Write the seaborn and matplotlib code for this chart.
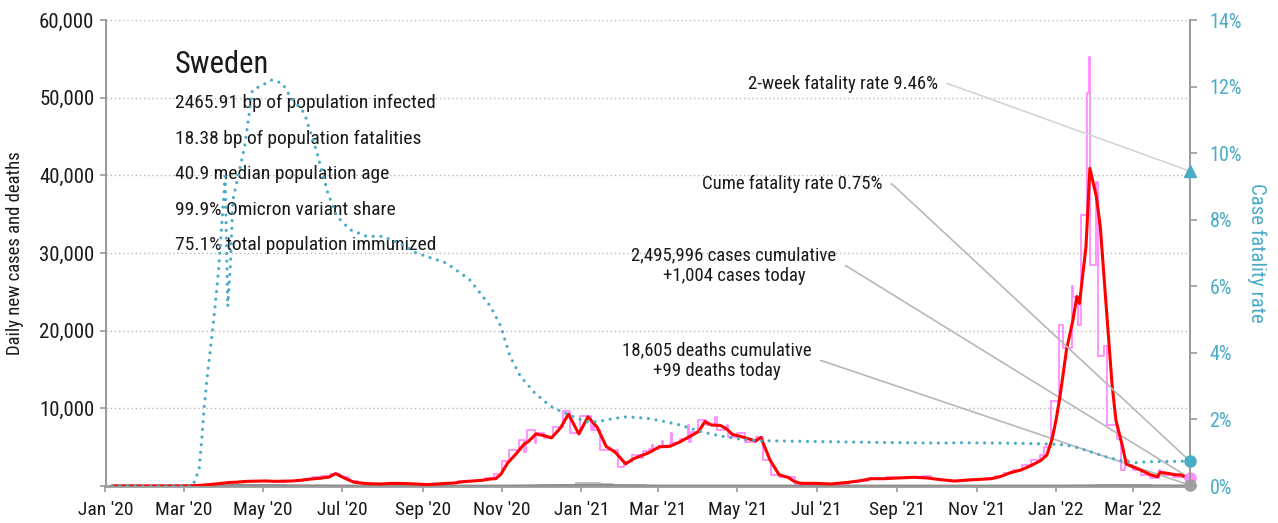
import matplotlib
matplotlib.use("Agg")
import matplotlib.pyplot as plt
import matplotlib.dates as mdates
from matplotlib import font_manager
from matplotlib.ticker import FuncFormatter, MultipleLocator
import pandas as pd
import seaborn as sns

# ---------------------------------------------------------------- data
country = "Sweden"
profile_lines = [
    "2465.91 bp of population infected",
    "18.38 bp of population fatalities",
    "40.9 median population age",
    "99.9% Omicron variant share",
    "75.1% total population immunized",
]
cum_cases = 2495996
cum_deaths = 18605
cases_today = 1004
deaths_today = 99
two_week_cfr = 9.46
last_day = "2022-04-14"

# 7-day average of new cases
avg_dates = [
    "2020-01-06", "2020-02-26", "2020-03-08", "2020-03-15", "2020-03-22", "2020-03-29",
    "2020-04-05", "2020-04-12", "2020-04-19", "2020-04-26", "2020-05-03", "2020-05-10",
    "2020-05-17", "2020-05-24", "2020-05-31", "2020-06-07", "2020-06-14", "2020-06-21",
    "2020-06-26", "2020-07-03", "2020-07-10", "2020-07-17", "2020-07-24", "2020-07-31",
    "2020-08-07", "2020-08-14", "2020-08-21", "2020-08-28", "2020-09-04", "2020-09-11",
    "2020-09-18", "2020-09-25", "2020-10-02", "2020-10-09", "2020-10-16", "2020-10-23",
    "2020-10-27", "2020-10-31", "2020-11-05", "2020-11-12", "2020-11-18", "2020-11-21",
    "2020-11-27", "2020-12-03", "2020-12-09", "2020-12-16", "2020-12-22", "2020-12-30",
    "2021-01-06", "2021-01-13", "2021-01-20", "2021-01-27", "2021-02-04", "2021-02-10",
    "2021-02-16", "2021-02-22", "2021-03-02", "2021-03-10", "2021-03-18", "2021-03-25",
    "2021-04-01", "2021-04-06", "2021-04-11", "2021-04-18", "2021-04-23", "2021-04-27",
    "2021-05-04", "2021-05-11", "2021-05-15", "2021-05-19", "2021-05-26", "2021-06-02",
    "2021-06-09", "2021-06-14", "2021-06-19", "2021-06-30", "2021-07-12", "2021-07-25",
    "2021-08-04", "2021-08-12", "2021-08-22", "2021-09-01", "2021-09-14", "2021-09-24",
    "2021-10-04", "2021-10-15", "2021-10-25", "2021-11-04", "2021-11-12", "2021-11-19",
    "2021-11-27", "2021-12-05", "2021-12-12", "2021-12-20", "2021-12-25", "2021-12-29",
    "2022-01-01", "2022-01-04", "2022-01-09", "2022-01-14", "2022-01-17", "2022-01-19",
    "2022-01-24", "2022-01-27", "2022-02-01", "2022-02-04", "2022-02-08", "2022-02-13",
    "2022-02-16", "2022-02-21", "2022-02-24", "2022-03-02", "2022-03-07", "2022-03-15",
    "2022-03-20", "2022-03-22", "2022-03-28", "2022-04-02", "2022-04-07", "2022-04-14",
]
avg_cases = [
    0, 2, 30, 100, 200, 320,
    450, 500, 600, 620, 650, 600,
    620, 650, 750, 900, 1000, 1150,
    1600, 1000, 500, 350, 280, 260,
    330, 330, 300, 250, 180, 250,
    330, 380, 560, 640, 720, 900,
    940, 1500, 2900, 4200, 5400, 5700,
    6700, 6500, 6200, 7500, 9270, 6700,
    8900, 7600, 5100, 4350, 2850, 3500,
    3900, 4300, 5050, 5100, 5700, 6350,
    7000, 8300, 7850, 7800, 7300, 6650,
    6350, 6000, 5800, 6250, 3350, 1450,
    1100, 560, 340, 340, 260, 470,
    690, 940, 940, 1030, 1120, 1030,
    820, 640, 770, 860, 940, 1200,
    1720, 2060, 2570, 3260, 4000, 6100,
    8500, 11500, 17500, 21400, 24400, 23500,
    30800, 40900, 37250, 33400, 24400, 13200,
    8500, 5150, 2830, 2400, 2060, 1420,
    1200, 1760, 1630, 1460, 1420, 900,
]

# reported daily new cases (step changes between reporting days)
raw_dates = [
    "2020-01-06", "2020-03-01", "2020-03-09", "2020-03-16", "2020-03-23", "2020-03-30",
    "2020-04-06", "2020-04-13", "2020-04-20", "2020-04-27", "2020-05-04", "2020-05-11",
    "2020-05-18", "2020-05-25", "2020-06-01", "2020-06-08", "2020-06-15", "2020-06-22",
    "2020-06-29", "2020-07-06", "2020-07-13", "2020-07-20", "2020-07-27", "2020-08-03",
    "2020-08-10", "2020-08-17", "2020-08-24", "2020-08-31", "2020-09-07", "2020-09-14",
    "2020-09-21", "2020-09-28", "2020-10-05", "2020-10-12", "2020-10-19", "2020-10-26",
    "2020-11-01", "2020-11-06", "2020-11-14", "2020-11-18", "2020-11-19", "2020-11-20",
    "2020-11-26", "2020-11-27", "2020-12-03", "2020-12-10", "2020-12-18", "2020-12-23",
    "2020-12-31", "2021-01-08", "2021-01-10", "2021-01-11", "2021-01-15", "2021-01-29",
    "2021-02-03", "2021-02-09", "2021-02-16", "2021-02-17", "2021-02-22", "2021-02-24",
    "2021-02-25", "2021-03-02", "2021-03-04", "2021-03-05", "2021-03-10", "2021-03-11",
    "2021-03-12", "2021-03-18", "2021-03-24", "2021-03-25", "2021-03-26", "2021-04-01",
    "2021-04-07", "2021-04-14", "2021-04-15", "2021-04-23", "2021-04-24", "2021-05-01",
    "2021-05-07", "2021-05-15", "2021-05-21", "2021-05-27", "2021-06-02", "2021-06-14",
    "2021-06-28", "2021-07-12", "2021-07-26", "2021-08-02", "2021-08-09", "2021-08-16",
    "2021-08-23", "2021-08-30", "2021-09-06", "2021-09-13", "2021-09-20", "2021-09-27",
    "2021-10-04", "2021-10-11", "2021-10-18", "2021-10-25", "2021-11-01", "2021-11-08",
    "2021-11-15", "2021-11-22", "2021-11-29", "2021-12-06", "2021-12-13", "2021-12-20",
    "2021-12-23", "2021-12-28", "2022-01-03", "2022-01-06", "2022-01-13", "2022-01-14",
    "2022-01-18", "2022-01-20", "2022-01-25", "2022-01-26", "2022-01-27", "2022-02-01",
    "2022-02-02", "2022-02-07", "2022-02-09", "2022-02-17", "2022-02-20", "2022-02-23",
    "2022-02-24", "2022-02-25", "2022-03-01", "2022-03-07", "2022-03-14", "2022-03-21",
    "2022-03-22", "2022-04-01", "2022-04-14",
]
raw_cases = [
    0, 10, 80, 150, 300, 400,
    500, 600, 700, 600, 700, 550,
    700, 650, 900, 1100, 1300, 1600,
    1200, 600, 400, 300, 250, 350,
    300, 300, 250, 150, 250, 300,
    400, 600, 650, 750, 1000, 1500,
    3200, 4650, 5900, 4400, 5900, 7200,
    5500, 6850, 6200, 7600, 9600, 6850,
    8950, 7200, 8200, 7200, 4650, 2400,
    3150, 4000, 3600, 4500, 4800, 5300,
    4800, 5100, 5800, 5100, 5500, 6850,
    5500, 6000, 7900, 5700, 7000, 8500,
    7850, 8900, 7200, 7800, 6350, 6850,
    5700, 6250, 3350, 1400, 1200, 300,
    250, 300, 500, 700, 1000, 900,
    1100, 1000, 1200, 1100, 1300, 900,
    800, 600, 700, 800, 900, 1000,
    1300, 1700, 2100, 2700, 3350, 4000,
    5000, 11000, 20700, 17800, 25700, 24300,
    20700, 34900, 50600, 55300, 28450, 39200,
    16700, 18000, 7850, 6100, 2050, 2700,
    3350, 2700, 2050, 1400, 1000, 2050,
    1400, 1200, 1004,
]

# deaths: reported daily and 7-day average
death_dates = [
    "2020-01-06", "2020-03-15", "2020-03-22", "2020-03-29", "2020-04-05", "2020-04-12",
    "2020-04-19", "2020-04-26", "2020-05-03", "2020-05-10", "2020-05-17", "2020-05-24",
    "2020-05-31", "2020-06-07", "2020-06-14", "2020-06-21", "2020-06-28", "2020-07-05",
    "2020-07-19", "2020-08-02", "2020-09-01", "2020-10-01", "2020-10-15", "2020-11-01",
    "2020-11-15", "2020-12-01", "2020-12-15", "2020-12-28", "2021-01-06", "2021-01-15",
    "2021-01-25", "2021-02-05", "2021-02-20", "2021-03-10", "2021-04-01", "2021-05-01",
    "2021-06-01", "2021-07-01", "2021-09-01", "2021-11-01", "2021-12-01", "2022-01-01",
    "2022-01-20", "2022-02-01", "2022-02-15", "2022-03-01", "2022-03-15", "2022-04-01",
    "2022-04-14",
]
avg_deaths = [
    0, 5, 20, 50, 80, 95,
    90, 80, 70, 60, 50, 40,
    35, 30, 25, 20, 15, 10,
    5, 3, 2, 2, 3, 5,
    25, 50, 70, 90, 100, 95,
    70, 40, 20, 15, 15, 12,
    5, 2, 2, 2, 3, 10,
    25, 40, 50, 40, 30, 20,
    14,
]
raw_deaths = [
    0, 10, 40, 90, 130, 150,
    120, 110, 90, 80, 60, 50,
    40, 40, 30, 20, 20, 10,
    5, 5, 2, 2, 5, 10,
    60, 110, 150, 350, 420, 260,
    150, 80, 40, 30, 30, 20,
    10, 3, 3, 3, 5, 20,
    50, 80, 90, 70, 50, 40,
    99,
]

# case fatality rate, percent
cfr_dates = [
    "2020-01-06", "2020-03-08", "2020-03-10", "2020-03-13", "2020-03-15", "2020-03-17",
    "2020-03-19", "2020-03-24", "2020-03-28", "2020-04-02", "2020-04-04", "2020-04-06",
    "2020-04-08", "2020-04-12", "2020-04-17", "2020-04-23", "2020-05-01", "2020-05-08",
    "2020-05-16", "2020-05-22", "2020-06-02", "2020-06-11", "2020-06-20", "2020-06-27",
    "2020-07-07", "2020-07-20", "2020-08-01", "2020-08-14", "2020-08-27", "2020-09-19",
    "2020-10-07", "2020-10-23", "2020-10-31", "2020-11-07", "2020-11-15", "2020-11-26",
    "2020-12-08", "2020-12-17", "2020-12-26", "2021-01-05", "2021-01-13", "2021-01-26",
    "2021-02-05", "2021-02-21", "2021-03-07", "2021-03-18", "2021-04-03", "2021-04-18",
    "2021-05-04", "2021-05-19", "2021-06-24", "2021-08-14", "2021-10-02", "2021-10-21",
    "2021-12-09", "2022-01-04", "2022-01-15", "2022-01-25", "2022-02-08", "2022-02-21",
    "2022-03-03", "2022-03-13", "2022-04-14",
]
cfr_pct = [
    0.0, 0.0, 0.2, 0.5, 1.4, 2.4,
    3.2, 4.9, 6.5, 9.3, 5.4, 6.6,
    8.6, 9.3, 10.2, 11.9, 12.05, 12.2,
    12.1, 11.7, 11.2, 10.1, 8.8, 8.1,
    7.7, 7.5, 7.5, 7.3, 7.0, 6.7,
    6.2, 5.4, 4.8, 3.9, 3.3, 2.8,
    2.4, 2.23, 2.08, 1.93, 1.93, 2.03,
    2.08, 2.03, 1.93, 1.83, 1.63, 1.5,
    1.4, 1.36, 1.34, 1.31, 1.29, 1.30,
    1.28, 1.25, 1.18, 1.06, 0.88, 0.75,
    0.70, 0.73, 0.745,
]

# ---------------------------------------------------------------- style
sns.set_theme(style="white")
available = {f.name for f in font_manager.fontManager.ttflist}
family = next(f for f in ["Roboto Condensed", "Liberation Sans Narrow",
                          "Open Sans Condensed", "Roboto", "DejaVu Sans"]
              if f in available)
plt.rcParams["font.family"] = [family, "DejaVu Sans"]

PINK = "#ff8cff"
RED = "#ff0000"
TEAL = "#4bacc6"
GREY = "#a0a0a0"
SPINE = "#9a9a9a"
INK = "#1a1a1a"

cases_raw = pd.DataFrame({"date": pd.to_datetime(raw_dates), "cases": raw_cases})
cases_avg = pd.DataFrame({"date": pd.to_datetime(avg_dates), "cases": avg_cases})
deaths = pd.DataFrame({"date": pd.to_datetime(death_dates),
                       "raw": raw_deaths, "avg": avg_deaths})
cfr = pd.DataFrame({"date": pd.to_datetime(cfr_dates), "cfr": cfr_pct})
end = pd.Timestamp(last_day)

fig = plt.figure(figsize=(12.78, 5.23), dpi=100)
ax = fig.add_axes([105.5 / 1278, 37 / 523, 1084.5 / 1278, 466 / 523])
ax2 = ax.twinx()

sns.lineplot(data=cases_raw, x="date", y="cases", ax=ax, color=PINK, lw=1.3,
             drawstyle="steps-post", estimator=None, sort=False, zorder=2)
sns.lineplot(data=deaths, x="date", y="raw", ax=ax, color="#b4b4b4", lw=1.2,
             drawstyle="steps-post", estimator=None, sort=False, zorder=2)
sns.lineplot(data=deaths, x="date", y="avg", ax=ax, color="#8f8f8f", lw=2,
             estimator=None, sort=False, zorder=3)
sns.lineplot(data=cases_avg, x="date", y="cases", ax=ax, color=RED, lw=2.2,
             estimator=None, sort=False, zorder=4)
sns.lineplot(data=cfr, x="date", y="cfr", ax=ax2, color=TEAL, lw=2.3,
             linestyle=(0, (0.01, 2.4)), dash_capstyle="round",
             estimator=None, sort=False, zorder=3)

# end-of-series markers
ax.plot([end], [cases_today], "o", color=PINK, ms=8, clip_on=False, zorder=6)
ax.plot([end], [deaths_today], "o", color=GREY, ms=8, clip_on=False, zorder=7)
cume_cfr = cum_deaths / cum_cases * 100
ax2.plot([end], [cume_cfr], "o", color=TEAL, ms=8, clip_on=False, zorder=6)
ax2.plot([end], [two_week_cfr], "^", color=TEAL, ms=9, clip_on=False, zorder=6)

# ---------------------------------------------------------------- axes
ax.set_xlim(pd.Timestamp("2020-01-01"), end)
ax.set_ylim(0, 60000)
ax2.set_ylim(0, 14)
ax.xaxis.set_major_locator(mdates.MonthLocator(bymonth=[1, 3, 5, 7, 9, 11]))
ax.xaxis.set_major_formatter(mdates.DateFormatter("%b '%y"))
ax.yaxis.set_major_locator(MultipleLocator(10000))
ax.yaxis.set_major_formatter(FuncFormatter(lambda v, p: "" if v == 0 else f"{v:,.0f}"))
ax2.yaxis.set_major_locator(MultipleLocator(2))
ax2.yaxis.set_major_formatter(FuncFormatter(lambda v, p: f"{v:.0f}%"))

ax.yaxis.grid(True, color="#b8b8b8", linestyle=(0, (1, 2)), lw=1)
ax.xaxis.grid(False)
ax2.grid(False)

for sp in ("top", "right"):
    ax.spines[sp].set_visible(False)
for sp in ("top", "left", "bottom"):
    ax2.spines[sp].set_visible(False)
ax.spines["left"].set_color(SPINE)
ax.spines["left"].set_linewidth(1.4)
ax.spines["bottom"].set_color(SPINE)
ax.spines["bottom"].set_linewidth(2)
ax2.spines["right"].set_color(SPINE)
ax2.spines["right"].set_linewidth(1.4)

ax.tick_params(axis="y", left=True, length=4, width=1.2, color=SPINE, pad=4,
               labelsize=15, labelcolor=INK)
ax.tick_params(axis="x", bottom=True, length=4, width=1.2, color=SPINE, pad=7,
               labelsize=14, labelcolor=INK)
ax2.tick_params(axis="y", right=True, length=5, width=1.2, color=SPINE, pad=9,
                labelsize=14.5, labelcolor=TEAL)

ax.set_xlabel("")
ax.set_ylabel("Daily new cases and deaths", fontsize=13.5, color=INK)
ax.yaxis.set_label_coords(-0.075, 0.5)
ax2.set_ylabel("Case fatality rate", fontsize=15, color=TEAL, rotation=270)
ax2.yaxis.set_label_coords(1.071, 0.5)

# ---------------------------------------------------------------- texts
ax.text(0.064, 0.905, country, transform=ax.transAxes, fontsize=22,
        color=INK, va="center", ha="left", zorder=1)
for i, line in enumerate(profile_lines):
    ax.text(0.064, 0.822 - i * 0.0764, line, transform=ax.transAxes,
            fontsize=14, color=INK, va="center", ha="left", zorder=1)

end_num = mdates.date2num(end)


def callout(axis, text, value, xy_text, color):
    axis.annotate(
        text, xy=(end_num, value), xycoords="data",
        xytext=xy_text, textcoords="axes fraction",
        ha="right", va="center", multialignment="center",
        fontsize=13.5, color=INK, annotation_clip=False,
        arrowprops=dict(arrowstyle="-", color=color, lw=1.2,
                        shrinkA=4, shrinkB=0, relpos=(1, 0.5),
                        connectionstyle="arc,angleA=0,angleB=0,armA=10,armB=0,rad=0"),
    )


callout(ax2, f"2-week fatality rate {two_week_cfr:.2f}%", two_week_cfr,
        (0.768, 0.863), "#d4d4d4")
callout(ax2, f"Cume fatality rate {cume_cfr:.2f}%", cume_cfr,
        (0.716, 0.648), "#b8b8b8")
callout(ax, f"{cum_cases:,} cases cumulative\n+{cases_today:,} cases today",
        cases_today, (0.674, 0.472), "#b8b8b8")
callout(ax, f"{cum_deaths:,} deaths cumulative\n+{deaths_today:,} deaths today",
        deaths_today, (0.651, 0.269), "#b8b8b8")

fig.savefig("out.png", dpi=100)
